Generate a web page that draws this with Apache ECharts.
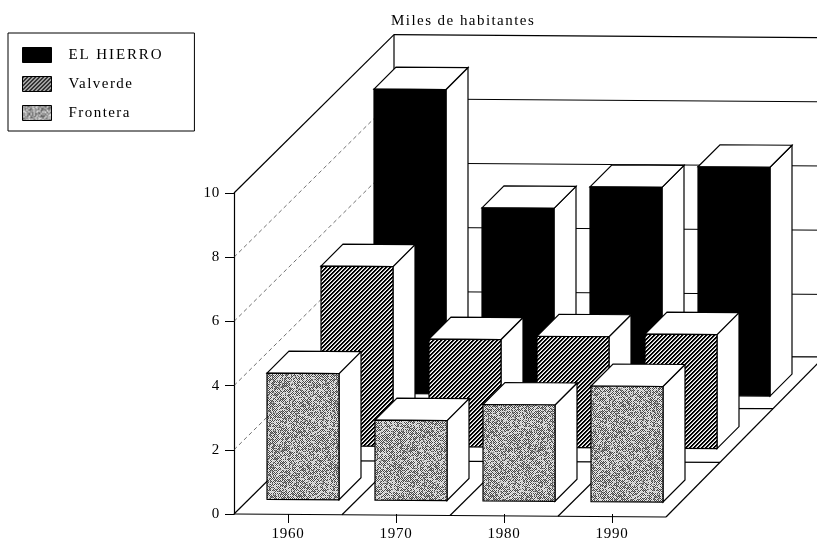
<!DOCTYPE html>
<html>
<head>
<meta charset="utf-8">
<style>html,body{margin:0;padding:0;background:#fff}#c{width:817px;height:542px}</style>
<script src="https://cdn.jsdelivr.net/npm/echarts@6/dist/echarts.min.js"></script>
</head>
<body>
<div id="c"></div>
<script>
const categories = ['1960', '1970', '1980', '1990'];
const yTicks = [0, 2, 4, 6, 8, 10];
const elHierro = [9.48, 5.8, 6.48, 7.13];
const valverde = [5.6, 3.35, 3.46, 3.55];
const frontera = [3.93, 2.49, 3.0, 3.6];

// Pseudo-3D layout (pixels of depth along the receding floor direction)
const WALL_DEPTH = 160, BOX_DEPTH = 22, BAR_RATIO = 2 / 3;
const ROW_DEPTH = { hierro: 122, valverde: 69, frontera: 15 };
const FLOOR_LINES = [54, 107];
const SKEW = 0.007, DEPTH_K = 0.99, X0 = 234;

// Text in the original is widely tracked
const nativeFill = CanvasRenderingContext2D.prototype.fillText;
CanvasRenderingContext2D.prototype.fillText = function (t, x, y, m) {
  const s = String(t);
  this.letterSpacing = /^\d+$/.test(s) ? '0.8px' : (s === s.toUpperCase() ? '1.9px' : '1.45px');
  return m === undefined ? nativeFill.call(this, t, x, y) : nativeFill.call(this, t, x, y, m);
};

function tile(size, shade) {
  const cv = document.createElement('canvas');
  cv.width = cv.height = size;
  const ctx = cv.getContext('2d');
  const img = ctx.createImageData(size, size);
  for (let y = 0; y < size; y++) for (let x = 0; x < size; x++) {
    const g = shade(x, y), k = (y * size + x) * 4;
    img.data[k] = img.data[k + 1] = img.data[k + 2] = g;
    img.data[k + 3] = 255;
  }
  ctx.putImageData(img, 0, 0);
  return { image: cv, repeat: 'repeat' };
}
const hatch = tile(4, (x, y) => [0, 0, 170, 255][(x + y) % 4]);
const stipple = tile(64, (x, y) => {
  let h = (x * 374761393 + y * 668265263) | 0;
  h = Math.imul(h ^ (h >>> 13), 1274126177);
  const n = ((h ^ (h >>> 16)) >>> 0) % 100;
  return (x + y) % 2 === 0 ? (n < 70 ? 70 : 190) : (n < 75 ? 235 : 140);
});

function place(pt, d, k) {
  const kk = k === undefined ? DEPTH_K : k;
  return [pt[0] + d, pt[1] + SKEW * (pt[0] - X0) - d * kk];
}
const lineStyle = { stroke: '#000', lineWidth: 1.2, fill: null };
function seg(a, b, style) {
  return { type: 'line', shape: { x1: a[0], y1: a[1], x2: b[0], y2: b[1] }, style: Object.assign({}, lineStyle, style || {}) };
}

function barRenderer(depth, fill) {
  return function (params, api) {
    const i = api.value(0), v = api.value(1);
    const base = api.coord([i, 0]), top = api.coord([i, v]);
    const hw = api.size([1, 0])[0] * BAR_RATIO / 2;
    const bl = place([base[0] - hw, base[1]], depth), br = place([base[0] + hw, base[1]], depth);
    const tl = place([base[0] - hw, top[1]], depth), tr = place([base[0] + hw, top[1]], depth);
    const off = p => [p[0] + BOX_DEPTH, p[1] - BOX_DEPTH];
    const st = { stroke: '#000', lineWidth: 1.2 };
    return {
      type: 'group',
      children: [
        { type: 'polygon', shape: { points: [br, tr, off(tr), off(br)] }, style: Object.assign({ fill: '#fff' }, st) },
        { type: 'polygon', shape: { points: [tl, tr, off(tr), off(tl)] }, style: Object.assign({ fill: '#fff' }, st) },
        { type: 'polygon', shape: { points: [bl, br, tr, tl] }, style: Object.assign({ fill: fill }, st) }
      ]
    };
  };
}

function frameRenderer(params, api) {
  const v = api.value(1);
  const p0 = api.coord([0, v]);
  const band = api.size([1, 0])[0];
  const left = p0[0] - band / 2, right = left + band * categories.length;
  const kids = [];
  const backL = place([left, p0[1]], WALL_DEPTH), backR = place([right, p0[1]], WALL_DEPTH);
  if (v === 0) {
    const fl = [left, p0[1]], fr = [right, p0[1]];
    const frontL = place(fl, 0), frontR = place(fr, 0);
    const corner = place(fr, 158, 1.013);
    kids.push(seg(frontL, frontR), seg(frontR, corner), seg(frontL, backL), seg(backL, corner));
    categories.forEach((c, i) => {
      if (i > 0) {
        const x = [left + band * i, p0[1]];
        kids.push(seg(place(x, 0), place(x, WALL_DEPTH)));
      }
    });
    FLOOR_LINES.forEach(d => {
      kids.push(seg(place(fl, d), place(fr, d, 1.013)));
    });
    const topFront = api.coord([0, yTicks[yTicks.length - 1]]);
    const tFL = [left, topFront[1]];
    kids.push(seg(tFL, place(tFL, WALL_DEPTH)));
    kids.push(seg(backL, place(tFL, WALL_DEPTH)));
  } else {
    kids.push(seg(backL, backR, { lineWidth: v === yTicks[yTicks.length - 1] ? 1.2 : 1 }));
    if (v !== yTicks[yTicks.length - 1]) {
      kids.push(seg([left, p0[1]], backL, { stroke: '#333', lineWidth: 0.7, lineDash: [4, 3] }));
    }
  }
  return { type: 'group', children: kids };
}

const font = { fontFamily: 'Liberation Serif', fontSize: 15, color: '#000' };
const toPairs = arr => arr.map((v, i) => [i, v]);

const chart = echarts.init(document.getElementById('c'), null, { renderer: 'canvas' });
chart.setOption({
  animation: false,
  backgroundColor: '#fff',
  title: {
    text: 'Miles de habitantes', left: 391, top: 14, padding: 0,
    textStyle: Object.assign({}, font, { fontWeight: 'normal' })
  },
  legend: {
    left: 8, top: 33, orient: 'vertical', selectedMode: false,
    backgroundColor: '#fff', borderColor: '#000', borderWidth: 1,
    padding: [14, 48, 10, 14], itemWidth: 29, itemHeight: 15, itemGap: 13,
    textStyle: Object.assign({}, font, { padding: [5, 0, 0, 12] }),
    icon: 'rect',
    data: [
      { name: 'EL HIERRO', itemStyle: { color: '#000', borderColor: '#000', borderWidth: 1 } },
      { name: 'Valverde', itemStyle: { color: hatch, borderColor: '#000', borderWidth: 1 } },
      { name: 'Frontera', itemStyle: { color: stipple, borderColor: '#000', borderWidth: 1 } }
    ]
  },
  grid: { left: 234, top: 193, width: 432, height: 322, containLabel: false },
  xAxis: {
    type: 'category', data: categories, offset: 1,
    axisLine: { show: false },
    axisTick: { show: true, alignWithLabel: true, length: 9, lineStyle: { color: '#000' } },
    axisLabel: Object.assign({}, font, { margin: 12 }),
    splitLine: { show: false }
  },
  yAxis: {
    type: 'value', min: 0, max: 10, interval: 2,
    axisLine: { show: true, lineStyle: { color: '#000', width: 1.2 } },
    axisTick: { show: true, length: 9, lineStyle: { color: '#000' } },
    axisLabel: Object.assign({}, font, { margin: 14 }),
    splitLine: { show: false }
  },
  series: [
    { name: 'Marco', type: 'custom', silent: true, z: 1, renderItem: frameRenderer, data: yTicks.map(v => [0, v]) },
    { name: 'EL HIERRO', type: 'custom', silent: true, z: 2, itemStyle: { color: '#000' }, renderItem: barRenderer(ROW_DEPTH.hierro, '#000'), data: toPairs(elHierro) },
    { name: 'Valverde', type: 'custom', silent: true, z: 3, itemStyle: { color: hatch }, renderItem: barRenderer(ROW_DEPTH.valverde, hatch), data: toPairs(valverde) },
    { name: 'Frontera', type: 'custom', silent: true, z: 4, itemStyle: { color: stipple }, renderItem: barRenderer(ROW_DEPTH.frontera, stipple), data: toPairs(frontera) }
  ]
});
</script>
</body>
</html>
